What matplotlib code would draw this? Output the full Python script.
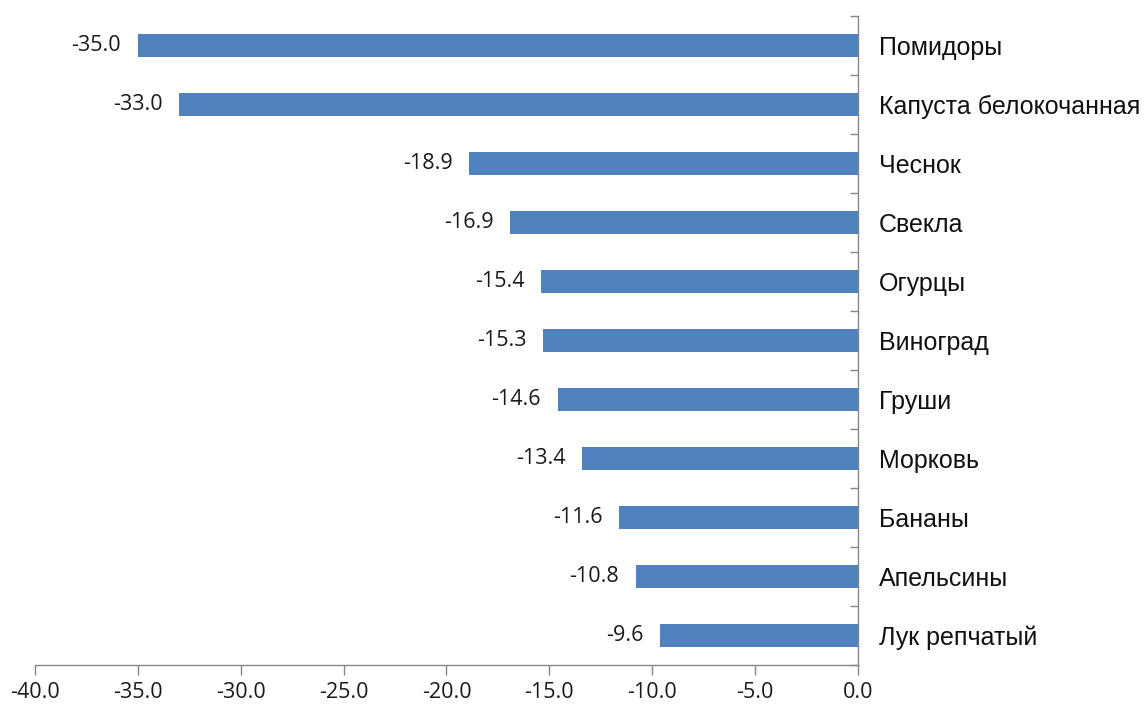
import matplotlib
matplotlib.use("Agg")
import matplotlib.pyplot as plt
import numpy as np

categories = ["Помидоры", "Капуста белокочанная", "Чеснок", "Свекла", "Огурцы",
              "Виноград", "Груши", "Морковь", "Бананы", "Апельсины", "Лук репчатый"]
values = [-35.0, -33.0, -18.9, -16.9, -15.4, -15.3, -14.6, -13.4, -11.6, -10.8, -9.6]
xticks = [-40, -35, -30, -25, -20, -15, -10, -5, 0]

fig = plt.figure(figsize=(11.45, 7.07), dpi=100)
ax = fig.add_axes([35/1145, 42/707, 823/1145, 649/707])

y = np.arange(len(categories))
ax.barh(y, values, height=0.39, color="#4F81BD", zorder=2)

ax.set_xlim(-40, 0)
ax.set_ylim(len(categories) - 0.5, -0.5)

gray = "#868686"
numfont = "Open Sans"
for s in ["top", "left"]:
    ax.spines[s].set_visible(False)
for s in ["bottom", "right"]:
    ax.spines[s].set_color(gray)
    ax.spines[s].set_linewidth(1.0)

ax.set_xticks(xticks)
ax.set_xticklabels([f"{v:.1f}" for v in xticks], fontsize=15.5, family=numfont, color="#1a1a1a")
ax.tick_params(axis="x", direction="out", length=7, width=1, color=gray, pad=5)

ax.yaxis.tick_right()
ax.set_yticks(y)
ax.set_yticklabels(categories, fontsize=18, family="Liberation Sans", color="#111111")
ax.tick_params(axis="y", which="major", length=0, pad=15)
ax.set_yticks(np.arange(len(categories) + 1) - 0.5, minor=True)
ax.tick_params(axis="y", which="minor", direction="in", length=6, width=1, color=gray, right=True, left=False)

for yi, v in zip(y, values):
    ax.annotate(f"{v:.1f}", xy=(v, yi), xytext=(-12, 0), textcoords="offset points",
                ha="right", va="center", fontsize=15.5, family=numfont, color="#1a1a1a")

fig.savefig("out.png", dpi=100)
